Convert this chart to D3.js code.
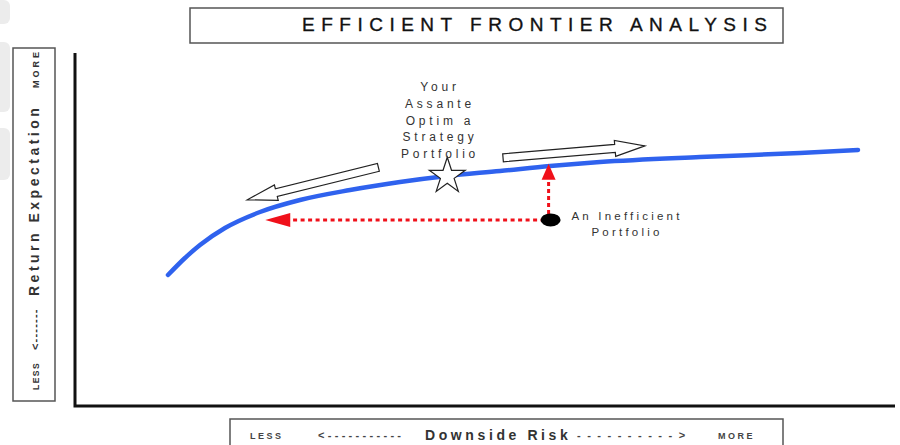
<!DOCTYPE html>
<html>
<head>
<meta charset="utf-8">
<script src="https://cdn.jsdelivr.net/npm/d3@7"></script>
<style>
  html, body { margin: 0; padding: 0; background: #fff; }
  svg { display: block; font-family: Arial, "Liberation Sans", sans-serif; }
</style>
</head>
<body>
<svg id="chart" width="900" height="445"></svg>
<script>
// Efficient frontier: downside risk (0-100) vs. return expectation (0-100)
const frontierRisk   = [11.34, 13.41, 15.24, 18.29, 22.56, 27.44, 33.54, 39.63, 45.37, 51.83, 57.93, 64.02, 76.22, 88.41, 95.49];
const frontierReturn = [37.11, 41.93, 45.61, 50.42, 54.96, 58.36, 61.19, 63.46, 65.16, 66.57, 67.99, 69.12, 70.54, 71.67, 72.52];

// Strategy portfolio (star) and the inefficient portfolio (dot)
const strategyPoint    = [45.4, 65.4];
const inefficientPoint = [58.0, 52.7];
// Where the red dashed arrows end: lower risk at same return, higher return at same risk
const sameReturnRisk = 23.2;
const sameRiskReturn = 68.6;

// Hollow direction arrows along the frontier: [tailRisk, tailReturn, tipRisk, tipReturn]
const lowerRiskArrow  = [37.0, 67.6, 21.0, 58.4];
const higherRiskArrow = [52.2, 70.3, 69.5, 73.7];

const titleText = "EFFICIENT FRONTIER ANALYSIS";
const strategyLabel = ["Your", "Assante", "Optim a", "Strategy", "Portfolio"];
const inefficientLabel = ["An Inefficient", "Portfolio"];

const svg = d3.select("#chart");
const x = d3.scaleLinear().domain([0, 100]).range([75, 895]);
const y = d3.scaleLinear().domain([0, 100]).range([406, 53]);

// Faint background shapes at the left edge
[[0, 0, 24], [0, 42, 70], [0, 128, 52]].forEach(([rx, ry, h]) => {
  svg.append("rect").attr("x", rx - 6).attr("y", ry).attr("width", 16).attr("height", h)
    .attr("rx", 6).attr("fill", "#ececec");
});

// Title box
svg.append("rect").attr("x", 190).attr("y", 8).attr("width", 593).attr("height", 35)
  .attr("fill", "#fff").attr("stroke", "#555").attr("stroke-width", 1.5);
svg.append("text").attr("x", 302).attr("y", 31)
  .attr("font-size", 19).attr("letter-spacing", 6.5).attr("fill", "#111")
  .attr("stroke", "#111").attr("stroke-width", 0.35)
  .text(titleText);

// Y label box (rotated text)
svg.append("rect").attr("x", 13).attr("y", 48).attr("width", 42).attr("height", 353)
  .attr("fill", "#fff").attr("stroke", "#555").attr("stroke-width", 1.5);
const yl = svg.append("g").attr("transform", "translate(39,0) rotate(-90)");
yl.append("text").attr("x", -390).attr("y", 0).attr("font-size", 8.5).attr("font-weight", "bold")
  .attr("letter-spacing", 1.5).attr("fill", "#333").text("LESS");
yl.append("text").attr("x", -350).attr("y", 0).attr("font-size", 11).attr("font-weight", "bold")
  .attr("letter-spacing", 1.2).attr("fill", "#333").text("<-------");
yl.append("text").attr("x", -296).attr("y", 0).attr("font-size", 14).attr("font-weight", "bold")
  .attr("letter-spacing", 3.5).attr("fill", "#333").text("Return Expectation");
yl.append("text").attr("x", -88).attr("y", 0).attr("font-size", 9).attr("font-weight", "bold")
  .attr("letter-spacing", 3).attr("fill", "#333").text("MORE");

// X label box
svg.append("rect").attr("x", 230).attr("y", 419).attr("width", 553).attr("height", 40)
  .attr("fill", "#fff").attr("stroke", "#555").attr("stroke-width", 1.5);
svg.append("text").attr("x", 250).attr("y", 439).attr("font-size", 9).attr("font-weight", "bold")
  .attr("letter-spacing", 2.5).attr("fill", "#444").text("LESS");
svg.append("text").attr("x", 318).attr("y", 439).attr("font-size", 11).attr("font-weight", "bold")
  .attr("letter-spacing", 3.3).attr("fill", "#444").text("<-----------");
svg.append("text").attr("x", 425).attr("y", 440).attr("font-size", 14).attr("font-weight", "bold")
  .attr("letter-spacing", 3.6).attr("fill", "#333").text("Downside Risk");
svg.append("text").attr("x", 577).attr("y", 439).attr("font-size", 11).attr("font-weight", "bold")
  .attr("letter-spacing", 6.5).attr("fill", "#444").text("---------->");
svg.append("text").attr("x", 718).attr("y", 439).attr("font-size", 9).attr("font-weight", "bold")
  .attr("letter-spacing", 2.5).attr("fill", "#444").text("MORE");

// Axes as plain lines (no ticks)
svg.append("path")
  .attr("d", `M${x(0)},${y(100)} L${x(0)},${y(0)} L${x(100)},${y(0)}`)
  .attr("fill", "none").attr("stroke", "#111").attr("stroke-width", 3);

// Frontier curve
const pts = frontierRisk.map((r, i) => [r, frontierReturn[i]]);
const line = d3.line().x(d => x(d[0])).y(d => y(d[1])).curve(d3.curveMonotoneX);
svg.append("path").datum(pts).attr("d", line)
  .attr("fill", "none").attr("stroke", "#2f62ee").attr("stroke-width", 4.5)
  .attr("stroke-linecap", "round");

// Hollow arrow along a direction
function hollowArrow(a) {
  const x0 = x(a[0]), y0 = y(a[1]), x1 = x(a[2]), y1 = y(a[3]);
  const len = Math.hypot(x1 - x0, y1 - y0);
  const ang = Math.atan2(y1 - y0, x1 - x0) * 180 / Math.PI;
  const sw = 4, hw = 8, hl = 30;
  const shape = [[0, -sw], [len - hl, -sw], [len - hl, -hw], [len, 0], [len - hl, hw], [len - hl, sw], [0, sw]];
  svg.append("polygon")
    .attr("points", shape.map(p => p.join(",")).join(" "))
    .attr("transform", `translate(${x0},${y0}) rotate(${ang})`)
    .attr("fill", "#fff").attr("stroke", "#222").attr("stroke-width", 1.2);
}
hollowArrow(lowerRiskArrow);
hollowArrow(higherRiskArrow);

// Red dashed arrows from the inefficient portfolio
const red = "#f0101a";
const ix = x(inefficientPoint[0]), iy = y(inefficientPoint[1]);
const hx = x(sameReturnRisk);
svg.append("line").attr("x1", ix - 6).attr("y1", iy).attr("x2", hx + 24).attr("y2", iy)
  .attr("stroke", red).attr("stroke-width", 3).attr("stroke-dasharray", "4,3.5");
svg.append("polygon")
  .attr("points", `${hx},${iy} ${hx + 25},${iy - 7} ${hx + 25},${iy + 7}`).attr("fill", red);
const vy = y(sameRiskReturn);
svg.append("line").attr("x1", ix - 2).attr("y1", iy - 6).attr("x2", ix - 2).attr("y2", vy + 15)
  .attr("stroke", red).attr("stroke-width", 3).attr("stroke-dasharray", "4,3");
svg.append("polygon")
  .attr("points", `${ix - 2},${vy} ${ix - 9},${vy + 16} ${ix + 5},${vy + 16}`).attr("fill", red);

// Inefficient portfolio dot
svg.append("ellipse").attr("cx", ix).attr("cy", iy).attr("rx", 10).attr("ry", 6.5).attr("fill", "#000");

// Strategy star
const star = d3.symbol().type(d3.symbolStar).size(400);
svg.append("path").attr("d", star())
  .attr("transform", `translate(${x(strategyPoint[0])},${y(strategyPoint[1]) + 1})`)
  .attr("fill", "#fff").attr("stroke", "#222").attr("stroke-width", 1.2);

// Labels
svg.append("g").selectAll("text").data(strategyLabel).join("text")
  .attr("x", 440).attr("y", (d, i) => 91 + i * 16.8)
  .attr("text-anchor", "middle").attr("font-size", 12).attr("letter-spacing", 3.8)
  .attr("fill", "#333").text(d => d);
svg.append("g").selectAll("text").data(inefficientLabel).join("text")
  .attr("x", 627).attr("y", (d, i) => 220 + i * 16)
  .attr("text-anchor", "middle").attr("font-size", 11.5).attr("letter-spacing", 3.2)
  .attr("fill", "#333").text(d => d);
</script>
</body>
</html>
